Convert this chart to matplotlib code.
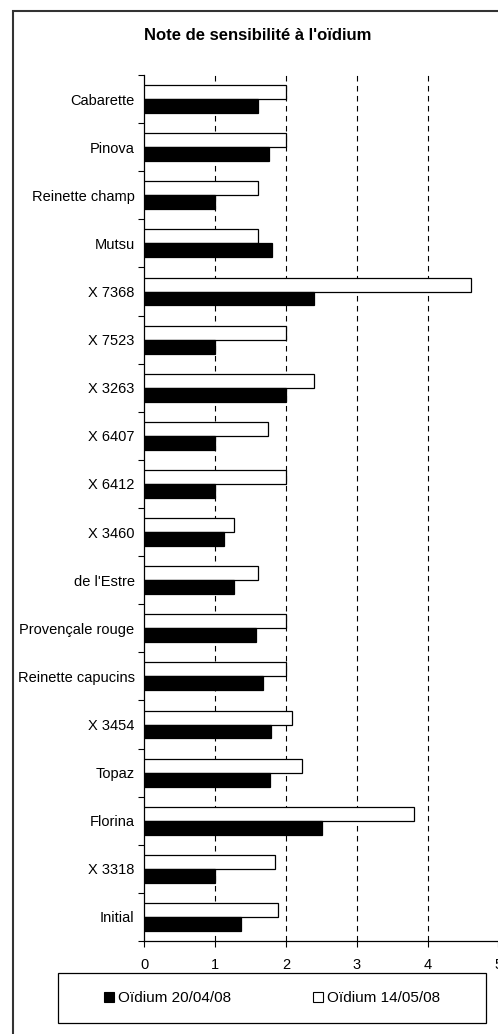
import matplotlib
matplotlib.use('Agg')
from matplotlib import pyplot as plt
from matplotlib.lines import Line2D
from matplotlib.patches import Rectangle
import numpy as np

# varieties, top to bottom as in the chart
varieties = ['Cabarette', 'Pinova', 'Reinette champ', 'Mutsu', 'X 7368', 'X 7523',
             'X 3263', 'X 6407', 'X 6412', 'X 3460', "de l'Estre", 'Provençale rouge',
             'Reinette capucins', 'X 3454', 'Topaz', 'Florina', 'X 3318', 'Initial']
oidium_2004 = [1.61, 1.76, 1.0, 1.81, 2.39, 1.0,
               2.0, 1.0, 1.0, 1.12, 1.26, 1.58,
               1.68, 1.79, 1.78, 2.51, 1.0, 1.36]
oidium_1405 = [2.0, 2.0, 1.61, 1.61, 4.61, 2.0,
               2.39, 1.75, 2.0, 1.27, 1.61, 2.0,
               2.0, 2.08, 2.23, 3.81, 1.84, 1.89]
xticks = [0, 1, 2, 3, 4, 5]
series_labels = ['Oïdium 20/04/08', 'Oïdium 14/05/08']
title = "Note de sensibilité à l'oïdium"

plt.rcParams['font.family'] = ['Liberation Sans', 'DejaVu Sans']

W, H = 498, 1034
fig = plt.figure(figsize=(W / 100, H / 100), dpi=100)

# outer chart frame (cut off at right and bottom)
fig.patches.append(Rectangle((13 / W, -0.1), 1.5, 1 - 11 / H + 0.1, transform=fig.transFigure,
                             fill=False, edgecolor='#333333', linewidth=1.5))

ax = fig.add_axes([144.3 / W, (H - 941) / H, 354 / W, (941 - 75) / H])

n = len(varieties)
y = np.arange(n)[::-1]
h = 0.29
ax.barh(y + h / 2, oidium_1405, height=h, color='white', edgecolor='black', linewidth=0.9, zorder=3)
ax.barh(y - h / 2, oidium_2004, height=h, color='black', edgecolor='black', linewidth=0.9, zorder=3)

for xv in xticks[1:-1]:
    ax.axvline(xv, color='black', linestyle=(0, (5, 4)), linewidth=0.8, zorder=1)

ax.set_xlim(0, 5)
ax.set_ylim(-0.5, n - 0.5)
ax.set_xticks(xticks)
ax.set_xticklabels([str(t) for t in xticks], fontsize=10.5)
ax.tick_params(axis='x', direction='out', length=4, width=0.8, pad=8)

ax.set_yticks(y)
ax.set_yticklabels(varieties, fontsize=10.5)
ax.set_yticks(np.arange(n + 1) - 0.5, minor=True)
ax.tick_params(axis='y', which='major', length=0, pad=7)
ax.tick_params(axis='y', which='minor', direction='out', length=4, width=0.8)

for s in ['top', 'right']:
    ax.spines[s].set_visible(False)
for s in ['left', 'bottom']:
    ax.spines[s].set_linewidth(0.9)

fig.text(258 / W, 1 - 35 / H, title, ha='center', va='center', fontsize=12, fontweight='bold')

# legend: frame drawn separately, entries placed without frame
fig.patches.append(Rectangle((58 / W, (H - 1023) / H), 428 / W, 50 / H, transform=fig.transFigure,
                             fill=False, edgecolor='black', linewidth=0.9))
handles = [Line2D([], [], linestyle='none', marker='s', markersize=7.5, markerfacecolor='black',
                  markeredgecolor='black', markeredgewidth=0.8),
           Line2D([], [], linestyle='none', marker='s', markersize=7.5, markerfacecolor='white',
                  markeredgecolor='black', markeredgewidth=0.8)]
leg = fig.legend(handles, series_labels, loc='center', ncol=2,
                 bbox_to_anchor=(272 / W, (H - 998) / H), frameon=False,
                 fontsize=11, handlelength=0.7, handletextpad=0.25, borderaxespad=0,
                 borderpad=0, columnspacing=5.3)

fig.savefig('out.png', dpi=100)
